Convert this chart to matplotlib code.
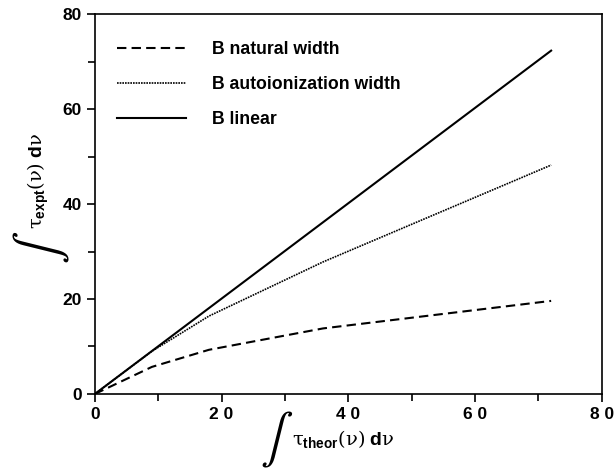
import numpy as np
import matplotlib.pyplot as plt

# values
x_pts = [0, 9, 18, 36, 72]
natural = [0, 5.7, 9.3, 13.8, 19.6]
autoion = [0, 9.0, 16.4, 27.8, 48.2]
linear_x = [0, 72]
linear_y = [0, 72.3]

labels = ['B natural width', 'B autoionization width', 'B linear']
xticklabels = ['0', '2 0', '4 0', '6 0', '8 0']
yticks = [0, 20, 40, 60, 80]

plt.rcParams['font.family'] = ['Liberation Sans', 'DejaVu Sans']
plt.rcParams['mathtext.fontset'] = 'custom'
plt.rcParams['mathtext.rm'] = 'DejaVu Serif'
plt.rcParams['mathtext.it'] = 'DejaVu Serif:italic'
plt.rcParams['mathtext.bf'] = 'Liberation Sans:bold'

fig = plt.figure(figsize=(6.16, 4.69), dpi=100)
ax = fig.add_axes([0.154, 0.160, 0.823, 0.810])

ax.plot(x_pts, natural, color='black', lw=1.5, ls=(0, (4.5, 2.5)), label=labels[0])
ax.plot(x_pts, autoion, color='black', lw=1.2, ls=(0, (1, 0.6)), label=labels[1])
ax.plot(linear_x, linear_y, color='black', lw=1.5, label=labels[2])

ax.set_xlim(0, 80)
ax.set_ylim(0, 80)
ax.set_xticks([0, 20, 40, 60, 80])
ax.set_xticklabels(xticklabels, fontweight='bold')
ax.set_xticks([10, 30, 50, 70], minor=True)
ax.set_yticks(yticks)
ax.set_yticklabels([str(v) for v in yticks], fontweight='bold')
ax.set_yticks([10, 30, 50, 70], minor=True)
ax.tick_params(which='both', direction='out', width=1.2, labelsize=12.5)
ax.tick_params(which='major', length=6)
ax.tick_params(which='minor', length=5)
for s in ax.spines.values():
    s.set_linewidth(1.2)

leg = ax.legend(loc='upper left', frameon=False, handlelength=3.9,
                prop={'size': 12.7, 'weight': 'bold'},
                handletextpad=1.5, labelspacing=1.03, borderaxespad=0.85,
                bbox_to_anchor=(0, 0.987))

# axis labels drawn by hand with big integral signs
lab_y = r'$\mathrm{τ}_{\mathbf{expt}}\mathrm{(ν)}\;\mathbf{d}\mathrm{ν}$'
lab_x = r'$\mathrm{τ}_{\mathbf{theor}}\mathrm{(ν)}\;\mathbf{d}\mathrm{ν}$'
fig.text(0.068, 0.473, r'$\int$', fontsize=35, rotation=90, ha='center', va='center',
         math_fontfamily='stix')
fig.text(0.062, 0.614, lab_y, fontsize=14, rotation=90, ha='center', va='center')
fig.text(0.449, 0.062, r'$\int$', fontsize=35, ha='center', va='center',
         math_fontfamily='stix')
fig.text(0.474, 0.051, lab_x, fontsize=14, ha='left', va='baseline')

fig.savefig('out.png', dpi=100)
